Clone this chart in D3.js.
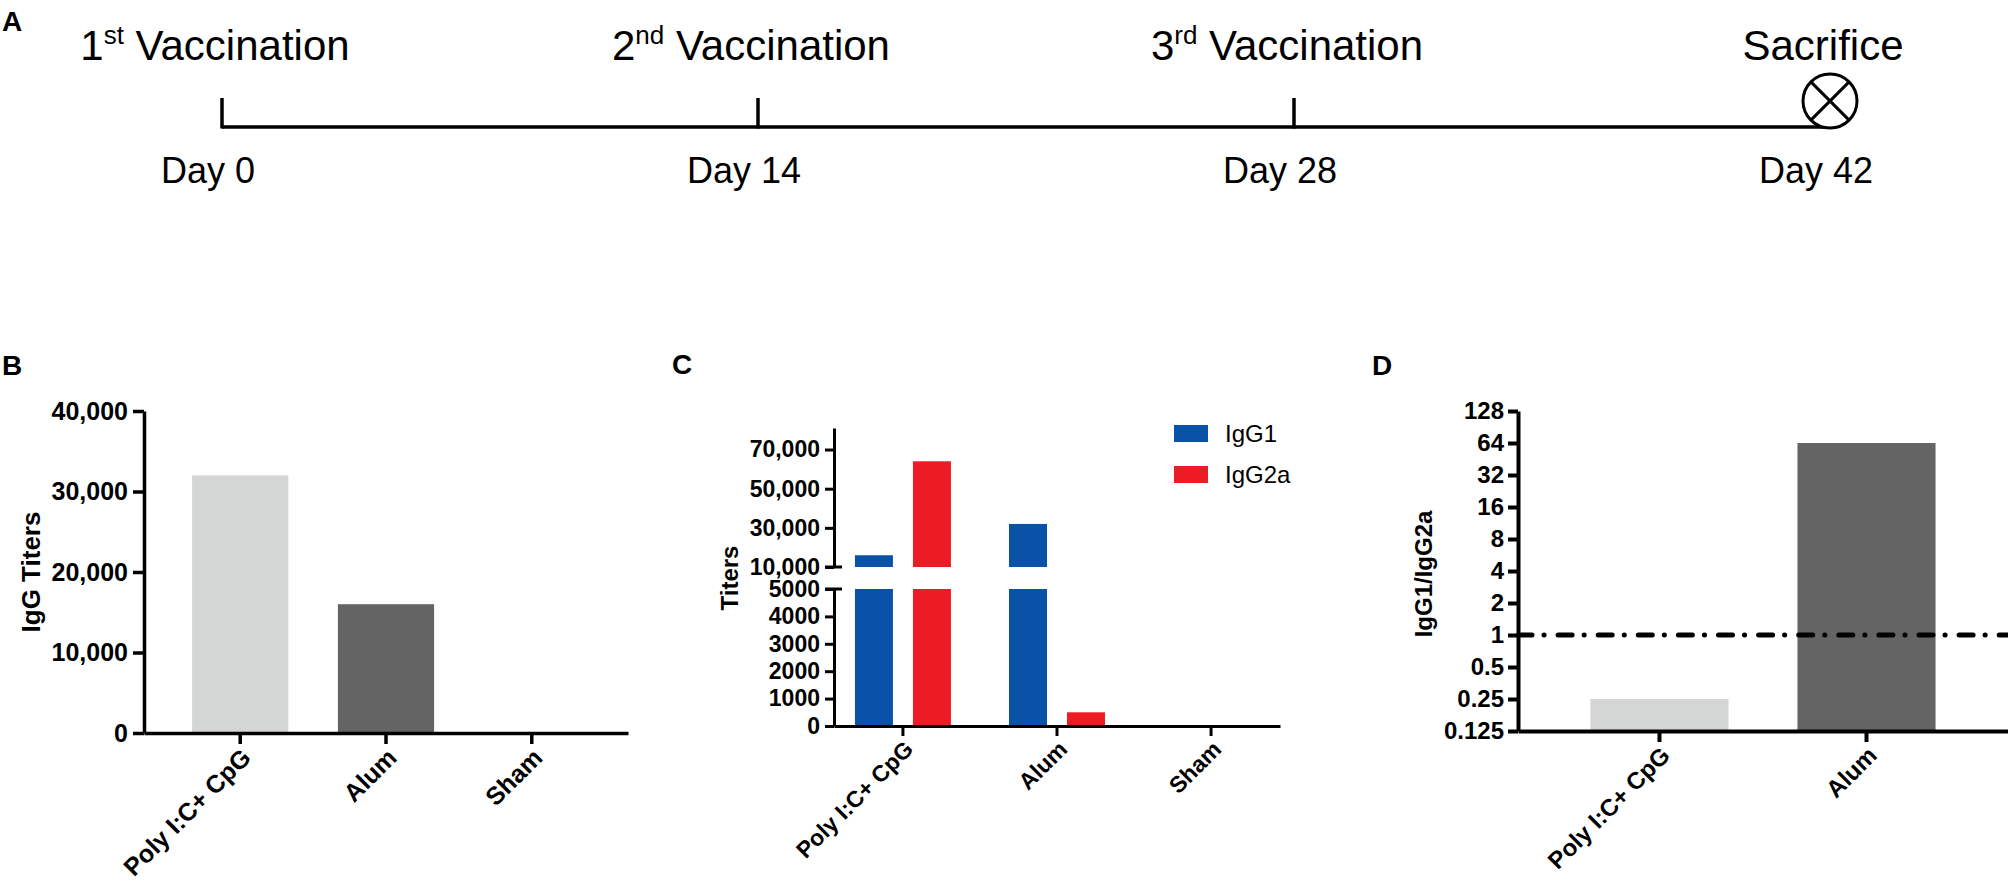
<!DOCTYPE html>
<html lang="en">
<head>
<meta charset="UTF-8">
<title>Vaccination schedule and antibody titers</title>
<style>
  body { margin: 0; background: #fff; }
  svg { display: block; }
  text { font-family: "Liberation Sans", Arial, sans-serif; fill: #000; }
</style>
</head>
<body>
<div id="chart"></div>
<script src="https://d3js.org/d3.v7.min.js"></script>
<script>
// A: timeline
const scheduleDays = [0, 14, 28, 42];
const eventNumbers = ['1', '2', '3', ''];
const eventSuffixes = ['st', 'nd', 'rd', ''];
const eventNames = ['Vaccination', 'Vaccination', 'Vaccination', 'Sacrifice'];

// B, C, D: groups and values
const groups = ['Poly I:C+ CpG', 'Alum', 'Sham'];
const iggTiters = [32000, 16000, 0];
const subclasses = ['IgG1', 'IgG2a'];
const igg1Titers = [16000, 32000, 0];
const igg2aTiters = [64000, 500, 0];
const ratioGroups = ['Poly I:C+ CpG', 'Alum'];
const ratioValues = [0.25, 64];

// tick values
const bTicks = [0, 10000, 20000, 30000, 40000];
const cUpperTicks = [10000, 30000, 50000, 70000];
const cLowerTicks = [0, 1000, 2000, 3000, 4000, 5000];
const dTicks = [0.125, 0.25, 0.5, 1, 2, 4, 8, 16, 32, 64, 128];

const FONT = '"Liberation Sans", Arial, sans-serif';
const grayLight = '#d4d5d5', grayDark = '#646464';
const blue = '#0a52a8', red = '#ed1c24';

const svg = d3.select('#chart').append('svg')
    .attr('width', 2008)
    .attr('height', 884);

// style an axis group: thick black lines, bold labels
function styleAxis(g, lineWidth, fontSize) {
  g.attr('font-family', FONT);
  g.select('.domain').attr('stroke', '#000').attr('stroke-width', lineWidth);
  g.selectAll('.tick line').attr('stroke', '#000').attr('stroke-width', lineWidth);
  g.selectAll('.tick text')
      .attr('font-size', fontSize)
      .attr('font-weight', 'bold')
      .attr('fill', '#000');
}

// rotated category labels under an x axis
function catLabels(g, scale, names, y0, fontSize) {
  g.selectAll('text.cat')
    .data(names)
    .enter().append('text')
      .attr('class', 'cat')
      .attr('text-anchor', 'end')
      .attr('font-size', fontSize)
      .attr('font-weight', 'bold')
      .attr('transform', d => `translate(${scale(d) + scale.bandwidth() / 2 + 6},${y0}) rotate(-45)`)
      .attr('dy', '0.35em')
      .text(d => d);
}

function panelLetter(letter, x, y) {
  svg.append('text')
      .attr('x', x).attr('y', y)
      .attr('font-size', 28)
      .attr('font-weight', 'bold')
      .text(letter);
}

// ---------- A ----------
panelLetter('A', 2, 31);
const tx = d3.scaleLinear().domain([0, 42]).range([222, 1830]);
const lineY = 127;
const circR = 27;

svg.append('line')
    .attr('x1', tx(0)).attr('x2', tx(42))
    .attr('y1', lineY).attr('y2', lineY)
    .attr('stroke', '#000').attr('stroke-width', 3.5);

svg.selectAll('line.tl-tick')
  .data(scheduleDays.slice(0, 3))
  .enter().append('line')
    .attr('class', 'tl-tick')
    .attr('x1', d => tx(d)).attr('x2', d => tx(d))
    .attr('y1', lineY + 1.5).attr('y2', lineY - 29)
    .attr('stroke', '#000').attr('stroke-width', 3.5);

// sacrifice marker: circle with a cross
const cx = tx(42), cy = lineY - circR + 1;
svg.append('circle')
    .attr('cx', cx).attr('cy', cy).attr('r', circR)
    .attr('fill', '#fff').attr('stroke', '#000').attr('stroke-width', 3);
const k = circR * Math.SQRT1_2;
svg.append('path')
    .attr('d', `M${cx - k},${cy - k}L${cx + k},${cy + k}M${cx + k},${cy - k}L${cx - k},${cy + k}`)
    .attr('stroke', '#000').attr('stroke-width', 3);

const ev = svg.selectAll('text.event')
  .data(scheduleDays)
  .enter().append('text')
    .attr('class', 'event')
    .attr('x', d => tx(d) - 7)
    .attr('y', 60)
    .attr('text-anchor', 'middle')
    .attr('font-size', 42)
    .style('white-space', 'pre');
ev.append('tspan').text((d, i) => eventNumbers[i]);
ev.append('tspan')
    .attr('font-size', 26)
    .attr('dy', (d, i) => eventSuffixes[i] ? -16 : 0)
    .text((d, i) => eventSuffixes[i]);
ev.append('tspan')
    .attr('dy', (d, i) => eventSuffixes[i] ? 16 : 0)
    .text((d, i) => (eventNumbers[i] ? ' ' : '') + eventNames[i]);

svg.selectAll('text.day')
  .data(scheduleDays)
  .enter().append('text')
    .attr('class', 'day')
    .attr('x', d => tx(d) - 14)
    .attr('y', 183)
    .attr('text-anchor', 'middle')
    .attr('font-size', 36)
    .text(d => 'Day ' + d);

// ---------- B ----------
panelLetter('B', 2, 375);
const gB = svg.append('g');
const bY0 = 733;
const yB = d3.scaleLinear().domain([0, 40000]).range([bY0, 411]);
const xB = d3.scaleBand().domain(groups).range([144, 628]).paddingInner(0.34).paddingOuter(0.33);

gB.selectAll('rect')
  .data(groups)
  .enter().append('rect')
    .attr('x', d => xB(d))
    .attr('width', xB.bandwidth())
    .attr('y', (d, i) => yB(iggTiters[i]))
    .attr('height', (d, i) => bY0 - yB(iggTiters[i]))
    .attr('fill', (d, i) => i === 0 ? grayLight : grayDark);

gB.append('g')
    .attr('transform', `translate(144,0)`)
    .call(d3.axisLeft(yB).tickValues(bTicks).tickSize(11).tickSizeOuter(0).tickPadding(5).tickFormat(d3.format(',')))
    .call(g => styleAxis(g, 3.5, 25));
gB.append('g')
    .attr('transform', `translate(0,${bY0})`)
    .call(d3.axisBottom(xB).tickSize(11).tickSizeOuter(0).tickFormat(''))
    .call(g => styleAxis(g, 3.5, 25));
catLabels(gB, xB, groups, bY0 + 20, 25);

gB.append('text')
    .attr('transform', `translate(40,572) rotate(-90)`)
    .attr('text-anchor', 'middle')
    .attr('font-size', 26)
    .attr('font-weight', 'bold')
    .text('IgG Titers');

// ---------- C ----------
panelLetter('C', 672, 374);
const gC = svg.append('g');
const cX0 = 834, cY0 = 726;
const yCL = d3.scaleLinear().domain([0, 5000]).range([cY0, 589]);
const yCU = d3.scaleLinear().domain([10000, 81000]).range([567, 428]);
const xC = d3.scaleBand().domain(groups).range([cX0, 1280]).paddingInner(0.377).paddingOuter(0.136);
const xSub = d3.scaleBand().domain(subclasses).range([0, xC.bandwidth()]).paddingInner(0.345);

const cData = [];
groups.forEach((g, i) => {
  cData.push({ group: g, sub: 'IgG1', v: igg1Titers[i] });
  cData.push({ group: g, sub: 'IgG2a', v: igg2aTiters[i] });
});
const subColor = d3.scaleOrdinal().domain(subclasses).range([blue, red]);

// lower segment (0-5000)
gC.selectAll('rect.low')
  .data(cData)
  .enter().append('rect')
    .attr('class', 'low')
    .attr('x', d => xC(d.group) + xSub(d.sub))
    .attr('width', xSub.bandwidth())
    .attr('y', d => yCL(Math.min(d.v, 5000)))
    .attr('height', d => cY0 - yCL(Math.min(d.v, 5000)))
    .attr('fill', d => subColor(d.sub));
// upper segment (10,000 and up)
gC.selectAll('rect.high')
  .data(cData.filter(d => d.v > 10000))
  .enter().append('rect')
    .attr('class', 'high')
    .attr('x', d => xC(d.group) + xSub(d.sub))
    .attr('width', xSub.bandwidth())
    .attr('y', d => yCU(d.v))
    .attr('height', d => yCU(10000) - yCU(d.v))
    .attr('fill', d => subColor(d.sub));

gC.append('g')
    .attr('transform', `translate(${cX0},0)`)
    .call(d3.axisLeft(yCU).tickValues(cUpperTicks).tickSize(9).tickSizeOuter(0).tickPadding(5).tickFormat(d3.format(',')))
    .call(g => styleAxis(g, 3, 23));
gC.append('g')
    .attr('transform', `translate(${cX0},0)`)
    .call(d3.axisLeft(yCL).tickValues(cLowerTicks).tickSize(9).tickSizeOuter(0).tickPadding(5).tickFormat(d3.format('d')))
    .call(g => styleAxis(g, 3, 23));
// break caps on the y axis
gC.selectAll('line.cap')
  .data([yCU(10000), yCL(5000)])
  .enter().append('line')
    .attr('x1', cX0 - 9).attr('x2', cX0 + 8)
    .attr('y1', d => d).attr('y2', d => d)
    .attr('stroke', '#000').attr('stroke-width', 3);
gC.append('g')
    .attr('transform', `translate(0,${cY0})`)
    .call(d3.axisBottom(xC).tickSize(10).tickSizeOuter(0).tickFormat(''))
    .call(g => styleAxis(g, 3, 23));
catLabels(gC, xC, groups, cY0 + 19, 23);

gC.append('text')
    .attr('transform', `translate(738,578) rotate(-90)`)
    .attr('text-anchor', 'middle')
    .attr('font-size', 24)
    .attr('font-weight', 'bold')
    .text('Titers');

// legend
const leg = gC.selectAll('g.leg')
  .data(subclasses)
  .enter().append('g')
    .attr('class', 'leg')
    .attr('transform', (d, i) => `translate(1174,${425 + i * 41})`);
leg.append('rect').attr('width', 34).attr('height', 17).attr('fill', d => subColor(d));
leg.append('text')
    .attr('x', 51).attr('y', 17)
    .attr('font-size', 24)
    .text(d => d);

// ---------- D ----------
panelLetter('D', 1372, 375);
const gD = svg.append('g');
const dX0 = 1518, dY0 = 731;
const yD = d3.scaleLog().base(2).domain([0.125, 128]).range([dY0, 411]);
const xD = d3.scaleBand().domain(ratioGroups).range([dX0, 2008]).paddingInner(0.333).paddingOuter(0.35);

gD.selectAll('rect')
  .data(ratioGroups)
  .enter().append('rect')
    .attr('x', d => xD(d))
    .attr('width', xD.bandwidth())
    .attr('y', (d, i) => yD(ratioValues[i]))
    .attr('height', (d, i) => dY0 - yD(ratioValues[i]))
    .attr('fill', (d, i) => i === 0 ? grayLight : grayDark);

// ratio = 1 reference line
gD.append('line')
    .attr('x1', dX0).attr('x2', 2008)
    .attr('y1', yD(1)).attr('y2', yD(1))
    .attr('stroke', '#000').attr('stroke-width', 5)
    .attr('stroke-linecap', 'round')
    .attr('stroke-dasharray', '14,12,0.1,14');

gD.append('g')
    .attr('transform', `translate(${dX0},0)`)
    .call(d3.axisLeft(yD).tickValues(dTicks).tickSize(10).tickSizeOuter(0).tickPadding(4).tickFormat(d => String(d)))
    .call(g => styleAxis(g, 4, 24));
gD.append('g')
    .attr('transform', `translate(0,${dY0})`)
    .call(d3.axisBottom(xD).tickSize(11).tickSizeOuter(0).tickFormat(''))
    .call(g => styleAxis(g, 4, 24));
catLabels(gD, xD, ratioGroups, dY0 + 20, 24);

gD.append('text')
    .attr('transform', `translate(1432,574) rotate(-90)`)
    .attr('text-anchor', 'middle')
    .attr('font-size', 24)
    .attr('font-weight', 'bold')
    .text('IgG1/IgG2a');
</script>
</body>
</html>
